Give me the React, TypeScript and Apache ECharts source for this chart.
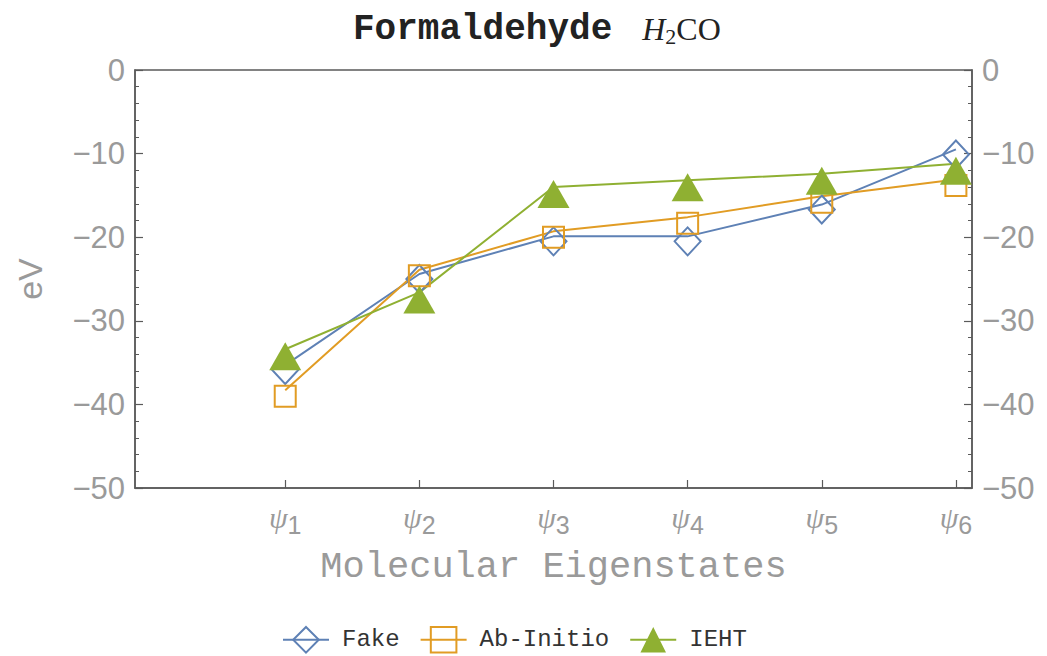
import React, { useEffect, useRef } from "react";
import * as echarts from "echarts";

const stateIndex = [1, 2, 3, 4, 5, 6];
const fakeValues = [-35.3, -24.4, -19.9, -19.9, -16.1, -9.5];
const abInitioValues = [-38.3, -23.9, -19.3, -17.6, -15.1, -13.1];
const iehtValues = [-33.4, -26.6, -14.0, -13.2, -12.4, -11.2];
const yTicks = [-50, -40, -30, -20, -10, 0];
const seriesNames = ["Fake", "Ab-Initio", "IEHT"];

const BLUE = "#5e81b5";
const ORANGE = "#e19c24";
const GREEN = "#8fb032";
const AXIS = "#5a5a5a";
const LABEL = "#9a9a9a";

const pairs = (vals: number[]) => stateIndex.map((x, i) => [x, vals[i]]);
const fmtY = (v: number) => (v < 0 ? "\u2212" + Math.abs(v) : String(v));

export default function App() {
  const ref = useRef<HTMLDivElement>(null);
  useEffect(() => {
    if (!ref.current) return;
    const chart = echarts.init(ref.current, null, { renderer: "svg" });
    const yAxisBase = (pos: "left" | "right") => ({
      type: "value" as const,
      position: pos,
      min: yTicks[0],
      max: yTicks[yTicks.length - 1],
      interval: 10,
      splitLine: { show: false },
      axisLine: { show: true, onZero: false, lineStyle: { color: AXIS, width: 1.5 } },
      axisTick: { show: true, inside: true, length: 8, lineStyle: { color: AXIS, width: 1.2 } },
      minorTick: { show: true, splitNumber: 5, length: 4, lineStyle: { color: AXIS, width: 1 } },
      axisLabel: {
        formatter: fmtY,
        color: LABEL,
        fontFamily: "Liberation Sans",
        fontSize: 31,
        margin: 10,
      },
    });
    chart.setOption({
      animation: false,
      backgroundColor: "#ffffff",
      title: {
        left: 348,
        top: 6,
        text: "{a|Formaldehyde}{h|H}{s|2}{c|CO}",
        textStyle: {
          rich: {
            a: { fontFamily: "Liberation Mono", fontWeight: "bold", fontSize: 36, color: "#222" },
            h: { fontFamily: "Liberation Serif", fontStyle: "italic", fontWeight: "normal", fontSize: 32, color: "#222", padding: [0, 0, 0, 30] },
            s: { fontFamily: "Liberation Serif", fontWeight: "normal", fontSize: 22, color: "#222", padding: [14, 0, 0, 0] },
            c: { fontFamily: "Liberation Serif", fontWeight: "normal", fontSize: 32, color: "#222" },
          },
        },
      },
      grid: { left: 135, top: 70, right: 75, bottom: 168, show: true, borderColor: AXIS, borderWidth: 1.5 },
      legend: {
        left: 277,
        top: 621,
        itemWidth: 46,
        itemHeight: 32,
        itemGap: 20,
        data: seriesNames,
        textStyle: { fontFamily: "Liberation Mono", fontSize: 24, color: "#333", padding: [0, 0, 0, 8] },
      },
      xAxis: {
        type: "value",
        min: -0.12,
        max: 6.12,
        name: "Molecular Eigenstates",
        nameLocation: "middle",
        nameGap: 60,
        nameTextStyle: { fontFamily: "Liberation Mono", fontSize: 37, color: LABEL },
        splitLine: { show: false },
        axisLine: { show: true, onZero: false, lineStyle: { color: AXIS, width: 1.5 } },
        axisTick: { show: true, inside: true, length: 8, customValues: stateIndex, lineStyle: { color: AXIS, width: 1.2 } },
        axisLabel: {
          customValues: stateIndex,
          margin: 10,
          formatter: (v: number) => `{p|\u03c8}{s|${v}}`,
          rich: {
            p: { fontFamily: "Liberation Serif", fontStyle: "italic", fontSize: 30, color: LABEL },
            s: { fontFamily: "Liberation Sans", fontSize: 25, color: LABEL, padding: [14, 0, 0, 0] },
          },
        },
      },
      yAxis: [
        {
          ...yAxisBase("left"),
          name: "eV",
          nameLocation: "middle",
          nameRotate: 90,
          nameGap: 88,
          nameTextStyle: { fontFamily: "Liberation Sans", fontSize: 34, color: LABEL },
        },
        { ...yAxisBase("right") },
      ],
      series: [
        {
          name: seriesNames[0],
          type: "line",
          data: pairs(fakeValues),
          symbol: "diamond",
          symbolSize: [26, 28],
          symbolOffset: [0, 5],
          itemStyle: { color: "rgba(255,255,255,0)", borderColor: BLUE, borderWidth: 2 },
          lineStyle: { color: BLUE, width: 2 },
        },
        {
          name: seriesNames[1],
          type: "line",
          data: pairs(abInitioValues),
          symbol: "rect",
          symbolSize: [21, 21],
          symbolOffset: [0, 6],
          itemStyle: { color: "rgba(255,255,255,0)", borderColor: ORANGE, borderWidth: 2 },
          lineStyle: { color: ORANGE, width: 2 },
        },
        {
          name: seriesNames[2],
          type: "line",
          data: pairs(iehtValues),
          symbol: "triangle",
          symbolSize: [32, 28],
          symbolOffset: [0, 7],
          itemStyle: { color: GREEN },
          lineStyle: { color: GREEN, width: 2 },
        },
      ],
    });
    return () => chart.dispose();
  }, []);
  return (
    <div
      ref={ref}
      style={{ position: "fixed", left: 0, top: 0, width: 1047, height: 656, background: "#fff" }}
    />
  );
}
